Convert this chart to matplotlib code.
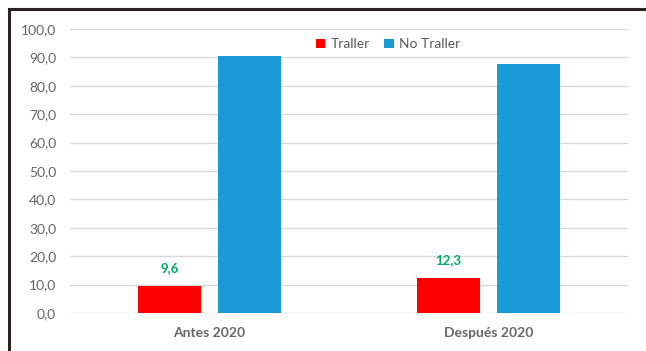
import matplotlib
matplotlib.use('Agg')
import matplotlib.pyplot as plt
from matplotlib.lines import Line2D
import numpy as np

categories = ['Antes 2020', 'Después 2020']
traller = [9.6, 12.3]
no_traller = [90.4, 87.7]
yticks = [0, 10, 20, 30, 40, 50, 60, 70, 80, 90, 100]

plt.rcParams['font.family'] = ['Lato', 'DejaVu Sans']

fig = plt.figure(figsize=(6.46, 3.51), dpi=100)
ax = fig.add_axes([70 / 646, 38 / 351, 558 / 646, 284 / 351])

x = np.arange(len(categories))
w = 0.226
gap = 0.06
red = ax.bar(x - (w + gap) / 2, traller, w, color='#ff0000', label='Traller', zorder=3)
blue = ax.bar(x + (w + gap) / 2, no_traller, w, color='#1a9ad6', label='No Traller', zorder=3)

for b, v in zip(red, traller):
    ax.annotate(f'{v:.1f}'.replace('.', ','), (b.get_x() + b.get_width() / 2, v),
                xytext=(0, 13), textcoords='offset points', ha='center', va='center',
                color='#00a86b', fontsize=9.5, fontweight='bold')

ax.set_xlim(-0.5, 1.5)
ax.set_ylim(0, 100)
ax.set_yticks(yticks)
ax.set_yticklabels([f'{t:.1f}'.replace('.', ',') for t in yticks])
ax.set_xticks(x)
ax.set_xticklabels(categories)
ax.tick_params(length=0, labelsize=10, labelcolor='#666666')
ax.tick_params(axis='y', pad=10)
ax.tick_params(axis='x', pad=10)
for lbl in ax.get_xticklabels():
    lbl.set_fontweight('bold')
ax.grid(axis='y', color='#d9d9d9', linewidth=1, zorder=0)
for s in ax.spines.values():
    s.set_visible(False)

ax.legend(loc='center', bbox_to_anchor=(0.57, 0.946), ncol=2, frameon=False,
          fontsize=10, handlelength=0.7, handleheight=0.7, handletextpad=0.4,
          columnspacing=1.0, labelcolor='#595959')

# dark frame on the top and left edges
fig.add_artist(Line2D([9 / 646, 9 / 646], [0, 1 - 9 / 351], color='#2a2220', lw=2.2))
fig.add_artist(Line2D([9 / 646, 1], [1 - 9 / 351, 1 - 9 / 351], color='#2a2220', lw=2.2))

fig.savefig('out.png', dpi=100)
